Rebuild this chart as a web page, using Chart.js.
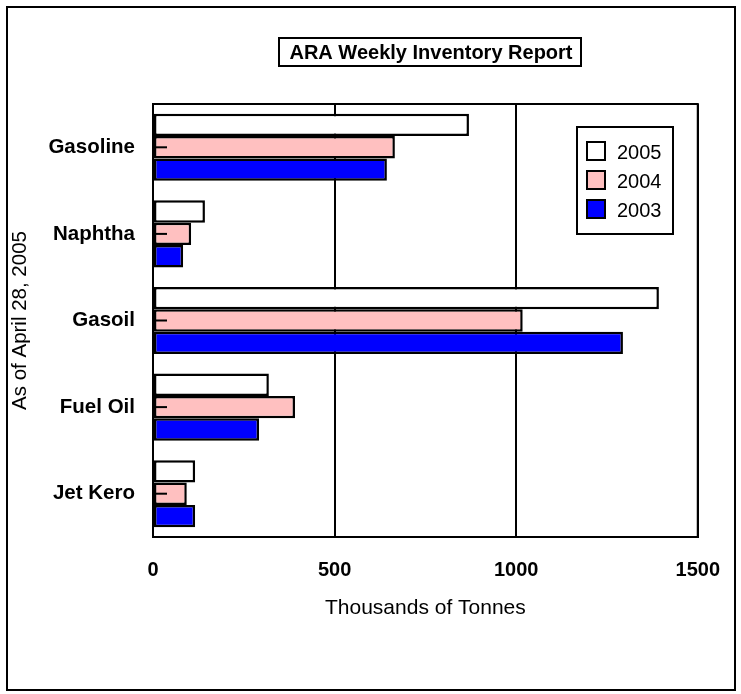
<!DOCTYPE html>
<html><head><meta charset="utf-8">
<script src="https://cdn.jsdelivr.net/npm/chart.js@4.4.0/dist/chart.umd.min.js"></script>
<style>html,body{margin:0;padding:0;background:#fff;} #wrap{width:741px;height:694px;position:relative;}</style>
</head><body><div id="wrap"><canvas id="c" width="741" height="694"></canvas></div>
<script>
const categories = ['Gasoline', 'Naphtha', 'Gasoil', 'Fuel Oil', 'Jet Kero'];
const series2005 = [870, 143, 1393, 319, 116];
const series2004 = [666, 105, 1018, 391, 93];
const series2003 = [644, 83, 1294, 292, 116];
const seriesLabels = ['2005', '2004', '2003'];
const seriesColors = ['#ffffff', '#ffc0c0', '#0000ff'];
const xTicks = [0, 500, 1000, 1500];
const titleText = 'ARA Weekly Inventory Report';
const xTitle = 'Thousands of Tonnes';
const yTitle = 'As of April 28, 2005';

const FONT = "'Liberation Sans', Arial, sans-serif";

const decor = {
  id: 'decor',
  afterDraw(chart) {
    const ctx = chart.ctx;
    const ca = chart.chartArea;
    ctx.save();
    ctx.strokeStyle = '#000';
    ctx.lineWidth = 2;
    ctx.strokeRect(7, 7, 728, 683);
    ctx.strokeRect(ca.left, ca.top, ca.right - ca.left, ca.bottom - ca.top);
    const ys = chart.scales.y;
    ys.ticks.forEach((t, i) => {
      const y = ys.getPixelForTick(i);
      ctx.beginPath();
      ctx.moveTo(ca.left, y);
      ctx.lineTo(ca.left + 14, y);
      ctx.stroke();
    });
    ctx.fillStyle = '#fff';
    ctx.fillRect(279, 38, 302, 28);
    ctx.strokeRect(279, 38, 302, 28);
    ctx.fillStyle = '#000';
    ctx.font = 'bold 20px ' + FONT;
    ctx.textAlign = 'center';
    ctx.textBaseline = 'middle';
    ctx.fillText(titleText, 431, 53);
    ctx.fillStyle = '#fff';
    ctx.fillRect(577, 127, 96, 107);
    ctx.strokeRect(577, 127, 96, 107);
    ctx.font = '20px ' + FONT;
    ctx.textAlign = 'left';
    chart.data.datasets.forEach((ds, i) => {
      const y = 142 + i * 29;
      ctx.fillStyle = ds.backgroundColor;
      ctx.fillRect(587, y, 18, 18);
      ctx.strokeRect(587, y, 18, 18);
      ctx.fillStyle = '#000';
      ctx.fillText(ds.label, 617, y + 11);
    });
    ctx.restore();
  }
};

new Chart(document.getElementById('c'), {
  type: 'bar',
  data: {
    labels: categories,
    datasets: [
      { label: seriesLabels[0], data: series2005, backgroundColor: seriesColors[0] },
      { label: seriesLabels[1], data: series2004, backgroundColor: seriesColors[1] },
      { label: seriesLabels[2], data: series2003, backgroundColor: seriesColors[2] }
    ]
  },
  options: {
    indexAxis: 'y',
    responsive: false,
    animation: false,
    devicePixelRatio: 1,
    layout: { padding: { top: 104, right: 40, left: 0, bottom: 57 } },
    datasets: {
      bar: {
        borderColor: '#000',
        borderWidth: 2.5,
        borderSkipped: false,
        categoryPercentage: 0.775,
        barPercentage: 1
      }
    },
    plugins: { legend: { display: false }, title: { display: false }, tooltip: { enabled: false } },
    scales: {
      x: {
        type: 'linear',
        min: 0, max: 1500,
        afterBuildTicks: s => { s.ticks = xTicks.map(v => ({ value: v })); },
        afterFit: s => { s.height = 100; },
        grid: { color: '#000', lineWidth: 2, drawTicks: false },
        border: { display: true, color: '#000', width: 2 },
        ticks: { color: '#000', padding: 21, callback: v => String(v), font: { family: FONT, size: 20, weight: 'bold' } },
        title: { display: true, text: xTitle, color: '#000', padding: { top: 0, bottom: 16 }, font: { family: FONT, size: 21 } }
      },
      y: {
        afterFit: s => { s.width = 153; },
        grid: { display: false, drawTicks: false },
        border: { display: true, color: '#000', width: 2 },
        ticks: { color: '#000', padding: 18, font: { family: FONT, size: 20.5, weight: 'bold' } },
        title: { display: true, text: yTitle, color: '#000', padding: { top: 8, bottom: 0 }, font: { family: FONT, size: 20.5 } }
      }
    }
  },
  plugins: [decor]
});
</script>
</body></html>
